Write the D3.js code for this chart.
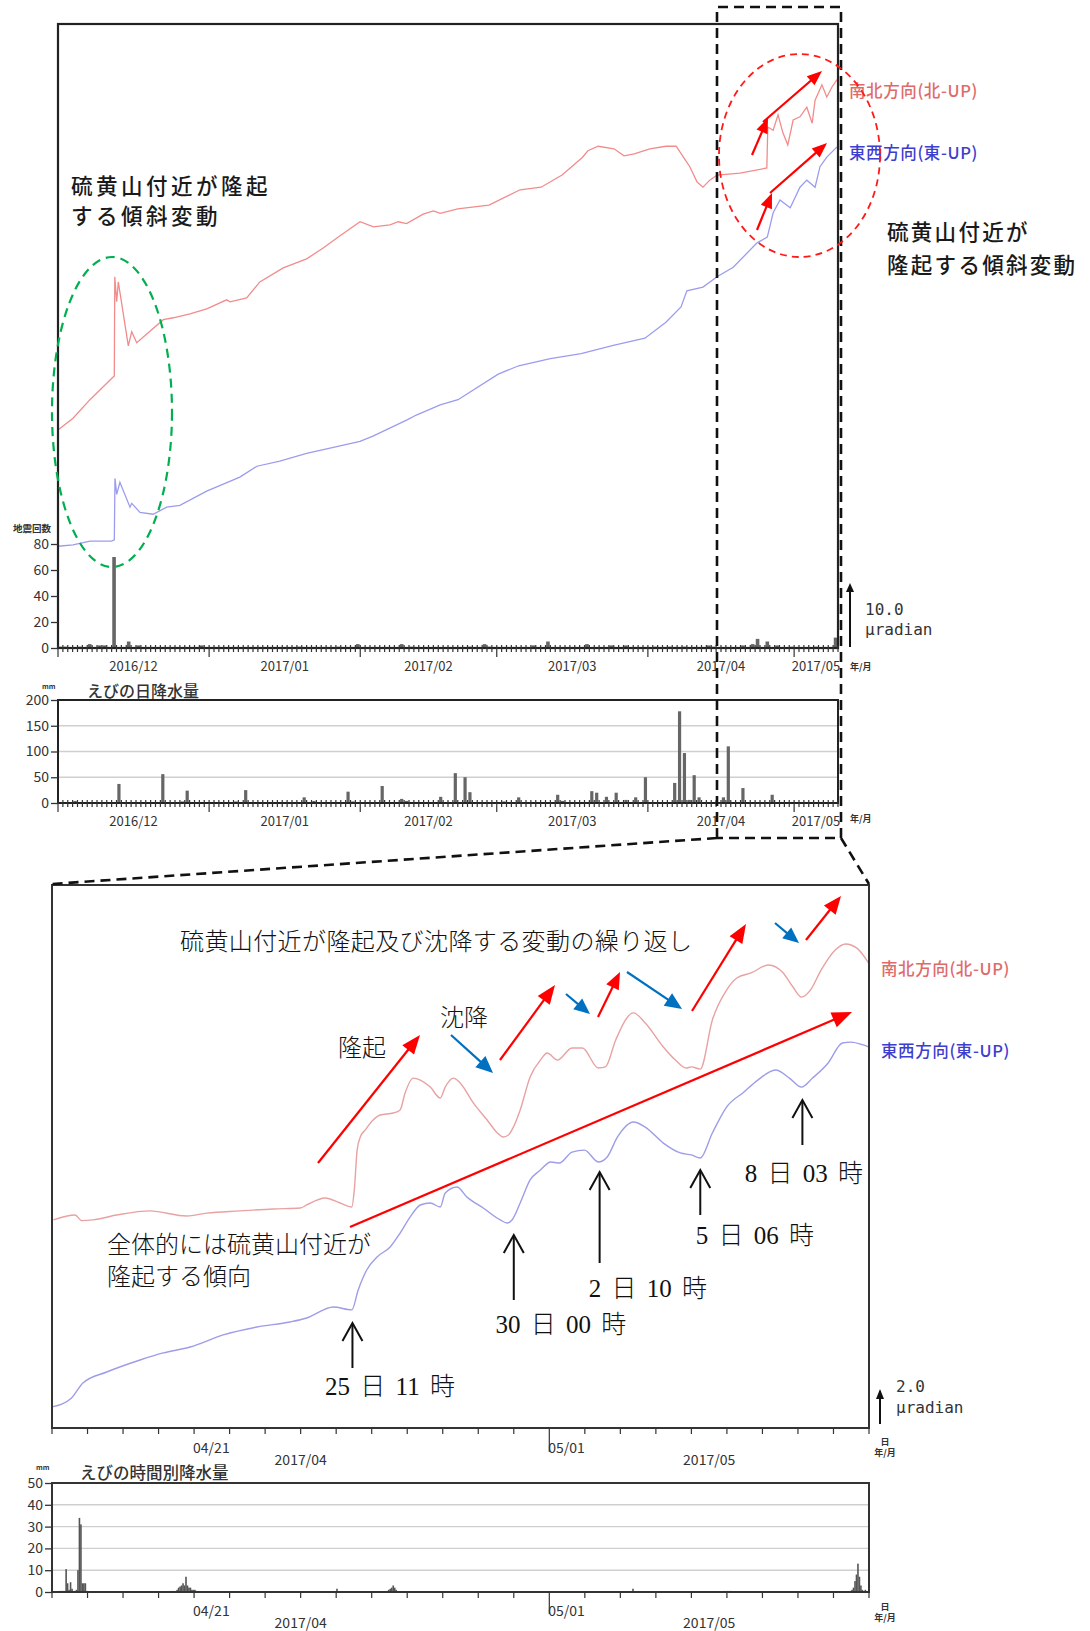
<!DOCTYPE html>
<html><head><meta charset="utf-8">
<script src="https://cdn.jsdelivr.net/npm/d3@7"></script>
<style>
html,body{margin:0;padding:0;background:#fff;}
svg{display:block;}
</style></head><body>
<svg id="chart" width="1090" height="1631"></svg>
<script>
// ---------- data ----------
// Long-period panel: 2016-12-01 .. 2017-05-10 ; zoom panel: 2017-04-17 .. 2017-05-10
const longStart = Date.UTC(2016, 11, 1);
const longEnd   = Date.UTC(2017, 4, 10);
const zoomStart = Date.UTC(2017, 3, 17);
const zoomEnd   = Date.UTC(2017, 4, 10);

const longMonthLabels = ["2016/12", "2017/01", "2017/02", "2017/03", "2017/04", "2017/05"];
const zoomMonthLabels = ["2017/04", "2017/05"];
const zoomDayLabels   = [["04/21", Date.UTC(2017, 3, 21)], ["05/01", Date.UTC(2017, 4, 1)]];
const quakeTicks      = [0, 20, 40, 60, 80];
const dailyRainTicks  = [0, 50, 100, 150, 200];
const hourlyRainTicks = [0, 10, 20, 30, 40, 50];

// tilt, long period: [days since 2016-12-01, μrad]
const tiltNS = [[0.06,34.1],[3.08,35.9],[6.56,38.8],[11.0,42.1],[11.55,42.5],[11.65,58.0],[12.04,54.1],[12.37,57.2],[14.42,47.2],[15.12,49.4],[16.14,47.7],[21.6,51.3],[23.65,51.6],[27.08,52.2],[30.5,53.0],[34.6,54.4],[35.28,54.1],[38.7,54.7],[41.4,57.2],[46.2,59.4],[51.0,60.8],[54.4,62.5],[57.85,64.4],[61.95,66.6],[64.7,65.8],[68.1,66.1],[69.8,66.6],[71.5,66.3],[74.9,67.8],[77.0,68.3],[78.4,67.9],[82.0,68.6],[88.4,69.2],[94.8,71.6],[99.1,72.0],[103.4,73.9],[107.5,76.6],[108.7,77.7],[110.8,78.4],[114.05,78.0],[116.1,76.9],[118.2,77.2],[121.4,78.0],[124.7,78.4],[126.8,78.4],[128.8,76.1],[129.6,75.2],[131.1,72.8],[132.3,72.0],[133.7,73.1],[135.2,73.9],[139.9,74.2],[145.4,75.0],[145.6,81.4],[146.7,80.9],[147.7,83.3],[148.7,80.5],[149.7,78.6],[150.8,82.5],[152.2,83.0],[153.6,84.5],[154.7,82.0],[155.3,85.6],[156.7,88.0],[157.7,86.1],[158.8,87.7],[159.8,88.8]];
const tiltEW = [[0,15.9],[3.08,16.1],[6.56,16.7],[11.0,16.7],[11.55,16.9],[11.69,26.5],[12.04,24.0],[12.7,25.9],[14.77,22.0],[15.12,22.6],[16.82,21.2],[19.5,20.9],[22.3,22.0],[25.0,22.3],[30.5,24.5],[37.3,26.7],[40.8,28.4],[45.5,29.2],[51.0,30.4],[57.85,31.6],[61.95,32.3],[64.6,33.1],[71.5,35.6],[73.5,36.4],[78.4,38.0],[82.05,38.8],[90.3,42.8],[94.5,44.1],[101.0,45.2],[107.3,46.0],[113.9,47.3],[120.4,48.4],[124.7,50.9],[127.8,53.3],[129.0,55.8],[132.3,56.4],[135.2,58.0],[138.5,59.5],[143.4,63.3],[145.5,64.2],[146.7,68.0],[148.1,70.0],[150.2,68.8],[152.2,72.0],[153.6,73.1],[155.3,72.0],[156.3,75.2],[157.7,76.7],[159.8,78.3]];

// tilt, zoom period: [days since 2017-04-17, μrad]
const zoomNS = [[0.04,11.56],[0.65,11.83],[0.84,11.52],[1.15,11.56],[1.82,11.83],[2.76,12.06],[3.79,11.78],[4.36,11.94],[5.30,12.06],[6.23,12.17],[6.99,12.22],[7.17,12.39],[7.69,12.78],[8.11,12.5],[8.44,12.28],[8.51,13.22],[8.59,15.44],[8.68,16.17],[8.82,16.56],[9.04,17.11],[9.24,17.39],[9.61,17.5],[9.80,17.67],[9.94,18.61],[10.17,19.44],[10.37,19.33],[10.65,18.94],[10.93,18.33],[11.07,18.94],[11.30,19.44],[11.49,19.17],[11.86,18.06],[12.25,17.11],[12.54,16.39],[12.70,16.17],[12.85,16.28],[12.99,16.72],[13.18,17.67],[13.46,19.5],[13.75,20.44],[13.94,20.83],[14.23,20.44],[14.64,21.11],[14.93,21.11],[15.38,20.0],[15.58,20.06],[15.87,21.56],[16.37,23.06],[16.70,22.5],[17.21,21.17],[17.55,20.44],[17.85,20.0],[18.0,20.06],[18.25,19.94],[18.59,22.67],[18.99,24.33],[19.28,25.0],[19.68,25.28],[20.17,25.72],[20.56,25.33],[20.86,24.5],[21.10,23.94],[21.35,24.33],[21.65,25.44],[22.05,26.56],[22.34,26.89],[22.65,26.67],[22.99,25.83]];
const zoomEW = [[0,1.17],[0.55,1.67],[0.87,2.5],[1.54,3.11],[2.48,3.78],[3.13,4.17],[3.89,4.5],[4.82,5.17],[5.77,5.61],[6.70,5.89],[7.17,6.11],[7.92,6.72],[8.44,6.56],[8.62,7.67],[8.86,8.78],[9.15,9.5],[9.52,10.06],[9.80,10.83],[10.08,11.72],[10.37,12.39],[10.65,12.5],[10.93,12.28],[11.07,13.06],[11.40,13.39],[11.68,12.83],[12.14,12.22],[12.62,11.56],[12.81,11.39],[12.95,11.56],[13.18,12.5],[13.46,13.78],[13.75,14.33],[14.04,14.78],[14.28,14.72],[14.64,15.33],[14.99,15.44],[15.38,14.78],[15.63,15.06],[15.92,16.17],[16.37,17.0],[16.70,16.72],[17.21,15.83],[17.69,15.28],[18.0,15.17],[18.25,15.0],[18.59,16.39],[18.99,17.83],[19.48,18.67],[19.87,19.33],[20.37,19.89],[20.76,19.44],[21.10,18.94],[21.41,19.44],[21.85,20.28],[22.25,21.39],[22.49,21.44],[22.84,21.28],[22.99,21.17]];

// daily earthquake counts: [days since 2016-12-01, count]
const quakeCounts = [[0,1],[1,1],[4,1],[6,3],[8,2],[9,2],[11,70],[14,5],[16,2],[29,2],[49,1],[57,1],[61,3],[70,3],[72,1],[84,1],[87,3],[88,1],[97,2],[100,5],[108,3],[113,2],[116,2],[122,1],[125,1],[128,1],[133,2],[134,1],[140,2],[142,3],[143,7],[145,5],[147,2],[150,1],[155,1],[159,8]];

// daily rainfall at Ebino (mm): [days since 2016-12-01, mm]
const dailyRain = [[3,4],[12,37],[21,56],[25,3],[26,24],[36,3],[38,25],[48,2],[50,11],[52,4],[59,22],[60,3],[66,33],[70,8],[71,4],[78,12],[81,58],[83,50],[84,21],[91,3],[94,11],[102,16],[103,4],[109,23],[110,20],[112,12],[114,20],[116,6],[118,11],[120,50],[126,39],[127,178],[128,97],[129,6],[130,54],[131,11],[136,11],[137,110],[140,29],[146,16],[153,2],[156,2]];

// hourly rainfall at Ebino (mm): [hours since 2017-04-17 00:00, mm]
const hourlyRain = [[5,0.5],[6,0.5],[7,0.5],[8,0.5],[9,10.5],[10,4],[11,1],[12,4.5],[13,1.5],[14,0.5],[15,0.5],[16,1],[17,10],[18,34],[19,31],[20,4],[21,4],[22,4],[23,0.5],[80,0.5],[82,0.5],[84,1],[85,2],[86,2.5],[87,3],[88,4],[89,3],[90,7],[91,3],[92,2],[93,2],[94,1],[95,1],[96,1],[97,0.5],[192,1.5],[226,0.5],[227,1],[228,1.5],[229,2],[230,3],[231,2],[232,1],[392,1.5],[454,0.5],[456,0.5],[458,0.5],[539,0.5],[540,1],[541,2],[542,5],[543,8],[544,13],[545,7],[546,3],[547,1],[549,1]];

// events marked on the zoom panel
const events = [
  {t: Date.UTC(2017, 3, 25, 11), label: "25 日 11 時", tip: 1323, tail: 1368, lx: 390, ly: 1386},
  {t: Date.UTC(2017, 3, 30, 0),  label: "30 日 00 時", tip: 1235, tail: 1300, lx: 561, ly: 1324},
  {t: Date.UTC(2017, 4, 2, 10),  label: "2 日 10 時",  tip: 1172, tail: 1263, lx: 648, ly: 1288},
  {t: Date.UTC(2017, 4, 5, 6),   label: "5 日 06 時",  tip: 1170, tail: 1215, lx: 755, ly: 1235},
  {t: Date.UTC(2017, 4, 8, 3),   label: "8 日 03 時",  tip: 1100, tail: 1145, lx: 804, ly: 1173}
];

// ---------- setup ----------
const DAY = 864e5;
const SANS = "'Noto Sans CJK JP','Noto Sans',sans-serif";
const MINCHO = "'Liberation Serif','Noto Sans CJK JP',serif";
const svg = d3.select("#chart");

const P1 = {l: 58, r: 838, t: 24, b: 648};     // tilt + earthquakes
const P2 = {l: 58, r: 838, t: 700, b: 803};    // daily rain
const P3 = {l: 52, r: 869, t: 885, b: 1428};   // zoomed tilt
const P4 = {l: 52, r: 869, t: 1483, b: 1592};  // hourly rain

const xLong = d3.scaleUtc().domain([new Date(longStart), new Date(longEnd)]).range([P1.l, P1.r]);
const xZoom = d3.scaleUtc().domain([new Date(zoomStart), new Date(zoomEnd)]).range([P3.l, P3.r]);
const yTilt = d3.scaleLinear().domain([0, 97.5]).range([P1.b, P1.t]);
const yQuake = d3.scaleLinear().domain([0, 80]).range([P1.b, P1.b - 104]);
const yDaily = d3.scaleLinear().domain([0, 200]).range([P2.b, P2.t]);
const yZoom = d3.scaleLinear().domain([0, (P3.b - P3.t) / 18]).range([P3.b, P3.t]);
const yHourly = d3.scaleLinear().domain([0, 50]).range([P4.b, P4.t]);

const longDate = d => new Date(longStart + d * DAY);
const zoomDate = d => new Date(zoomStart + d * DAY);

function styleAxis(g, size) {
  g.select(".domain").remove();
  g.selectAll("line").attr("stroke", "#333").attr("stroke-width", 1.3);
  g.selectAll("text").attr("font-family", SANS).attr("font-size", size).attr("fill", "#333");
}

function txt(x, y, s, opt = {}) {
  return svg.append("text").attr("x", x).attr("y", y).text(s)
    .attr("font-family", opt.family || SANS)
    .attr("font-size", opt.size || 13)
    .attr("font-weight", opt.weight || 400)
    .attr("fill", opt.fill || "#333")
    .attr("text-anchor", opt.anchor || "start")
    .attr("dominant-baseline", "central")
    .attr("letter-spacing", opt.ls || 0)
    .style("white-space", "pre");
}

// day ticks + month ticks under a panel
function dayTicks(x, P, t0, t1, up, down, monthDown) {
  const days = d3.utcDay.range(new Date(t0), new Date(t1 + 1));
  svg.append("g").selectAll("line").data(days).join("line")
    .attr("x1", d => x(d)).attr("x2", d => x(d))
    .attr("y1", P.b - up)
    .attr("y2", d => d.getUTCDate() === 1 ? P.b + monthDown : P.b + down)
    .attr("stroke", "#333").attr("stroke-width", 1.2);
}

function monthCentres(x, t0, t1) {
  const out = [];
  let m = d3.utcMonth.floor(new Date(t0));
  while (m < t1) {
    const n = d3.utcMonth.offset(m, 1);
    const a = Math.max(+m, t0), b = Math.min(+n, t1);
    out.push((x(new Date(a)) + x(new Date(b))) / 2);
    m = n;
  }
  return out;
}

// ---------- panel 1: tilt (long) + earthquake counts ----------
svg.append("g").selectAll("rect").data(quakeCounts).join("rect")
  .attr("x", d => xLong(longDate(d[0] + 0.5)) - 1.8)
  .attr("width", 3.6)
  .attr("y", d => yQuake(d[1]))
  .attr("height", d => P1.b - yQuake(d[1]))
  .attr("fill", "#666");

const lineLong = d3.line().x(d => xLong(longDate(d[0]))).y(d => yTilt(d[1]));
svg.append("path").datum(tiltNS).attr("d", lineLong)
  .attr("fill", "none").attr("stroke", "#f28c8c").attr("stroke-width", 1.3);
svg.append("path").datum(tiltEW).attr("d", lineLong)
  .attr("fill", "none").attr("stroke", "#9c9cef").attr("stroke-width", 1.3);

svg.append("rect").attr("x", P1.l).attr("y", P1.t).attr("width", P1.r - P1.l).attr("height", P1.b - P1.t)
  .attr("fill", "none").attr("stroke", "#222").attr("stroke-width", 2.2);

svg.append("g").attr("transform", `translate(${P1.l},0)`)
  .call(d3.axisLeft(yQuake).tickValues(quakeTicks).tickSize(7).tickPadding(2))
  .call(g => styleAxis(g, 14));
txt(32, 528, "地震回数", {size: 9.5, anchor: "middle", weight: 700});

dayTicks(xLong, P1, longStart, longEnd, 3, 4, 9);
monthCentres(xLong, longStart, longEnd).forEach((cx, i) =>
  txt(cx, 665, longMonthLabels[i], {size: 13, anchor: "middle"}));
txt(850, 666, "年/月", {size: 9, weight: 700});

// scale bar 10 μrad
svg.append("line").attr("x1", 850).attr("x2", 850)
  .attr("y1", yTilt(0) - 1).attr("y2", yTilt(10) + 4)
  .attr("stroke", "#111").attr("stroke-width", 2);
svg.append("path").attr("d", `M${850 - 4},${yTilt(10) + 8} L850,${yTilt(10) - 1} L${850 + 4},${yTilt(10) + 8} Z`).attr("fill", "#111");
txt(865, 609, "10.0", {family: "'DejaVu Sans Mono',monospace", size: 16});
txt(865, 629, "μradian", {family: "'DejaVu Sans Mono',monospace", size: 16});

// series labels
txt(849, 90, "南北方向(北-UP)", {size: 16.5, fill: "#e06a6a", weight: 500, ls: 0.6});
txt(849, 152, "東西方向(東-UP)", {size: 16.5, fill: "#3d3dd0", weight: 500, ls: 0.6});

// ---------- panel 2: daily rainfall ----------
svg.append("g").selectAll("line").data([50, 100, 150]).join("line")
  .attr("x1", P2.l).attr("x2", P2.r).attr("y1", d => yDaily(d)).attr("y2", d => yDaily(d))
  .attr("stroke", "#cfcfcf").attr("stroke-width", 1.4);
svg.append("g").selectAll("rect").data(dailyRain).join("rect")
  .attr("x", d => xLong(longDate(d[0] + 0.5)) - 1.6)
  .attr("width", 3.2)
  .attr("y", d => yDaily(d[1]))
  .attr("height", d => P2.b - yDaily(d[1]))
  .attr("fill", "#666");
svg.append("rect").attr("x", P2.l).attr("y", P2.t).attr("width", P2.r - P2.l).attr("height", P2.b - P2.t)
  .attr("fill", "none").attr("stroke", "#222").attr("stroke-width", 2);
svg.append("g").attr("transform", `translate(${P2.l},0)`)
  .call(d3.axisLeft(yDaily).tickValues(dailyRainTicks).tickSize(7).tickPadding(2))
  .call(g => styleAxis(g, 14));
dayTicks(xLong, P2, longStart, longEnd, 3, 4, 9);
monthCentres(xLong, longStart, longEnd).forEach((cx, i) =>
  txt(cx, 820, longMonthLabels[i], {size: 13, anchor: "middle"}));
txt(850, 818, "年/月", {size: 9, weight: 700});
txt(42, 686, "mm", {size: 7, weight: 700});
txt(87, 690, "えびの日降水量", {size: 16, weight: 500});

// ---------- panel 3: zoomed tilt ----------
const lineZoom = d3.line().curve(d3.curveMonotoneX).x(d => xZoom(zoomDate(d[0]))).y(d => yZoom(d[1]));
svg.append("path").datum(zoomNS).attr("d", lineZoom)
  .attr("fill", "none").attr("stroke", "#e8a2a2").attr("stroke-width", 1.4);
svg.append("path").datum(zoomEW).attr("d", lineZoom)
  .attr("fill", "none").attr("stroke", "#9d9de8").attr("stroke-width", 1.4);
svg.append("rect").attr("x", P3.l).attr("y", P3.t).attr("width", P3.r - P3.l).attr("height", P3.b - P3.t)
  .attr("fill", "none").attr("stroke", "#333").attr("stroke-width", 2);
dayTicks(xZoom, P3, zoomStart, zoomEnd, 0, 6, 24);
zoomDayLabels.forEach(([s, t]) => txt(xZoom(new Date(t)) - 1, 1447, s, {size: 14}));
monthCentres(xZoom, zoomStart, zoomEnd).forEach((cx, i) =>
  txt(cx, 1459, zoomMonthLabels[i], {size: 14, anchor: "middle"}));
txt(885, 1441, "日", {size: 9, anchor: "middle", weight: 700});
txt(885, 1452, "年/月", {size: 9, anchor: "middle", weight: 700});

svg.append("line").attr("x1", 880).attr("x2", 880)
  .attr("y1", yZoom(0) - 4).attr("y2", yZoom(2) - 1)
  .attr("stroke", "#111").attr("stroke-width", 2);
svg.append("path").attr("d", `M876,${yZoom(2) + 7} L880,${yZoom(2) - 3} L884,${yZoom(2) + 7} Z`).attr("fill", "#111");
txt(896, 1386, "2.0", {family: "'DejaVu Sans Mono',monospace", size: 16});
txt(896, 1407, "μradian", {family: "'DejaVu Sans Mono',monospace", size: 16});

txt(881, 968, "南北方向(北-UP)", {size: 16.5, fill: "#e06a6a", weight: 500, ls: 0.6});
txt(881, 1050, "東西方向(東-UP)", {size: 16.5, fill: "#3d3dd0", weight: 500, ls: 0.6});

// ---------- panel 4: hourly rainfall ----------
svg.append("g").selectAll("line").data([10, 20, 30, 40]).join("line")
  .attr("x1", P4.l).attr("x2", P4.r).attr("y1", d => yHourly(d)).attr("y2", d => yHourly(d))
  .attr("stroke", "#cfcfcf").attr("stroke-width", 1.4);
svg.append("g").selectAll("rect").data(hourlyRain).join("rect")
  .attr("x", d => xZoom(new Date(zoomStart + d[0] * 36e5)))
  .attr("width", 1.6)
  .attr("y", d => yHourly(d[1]))
  .attr("height", d => P4.b - yHourly(d[1]))
  .attr("fill", "#555");
svg.append("rect").attr("x", P4.l).attr("y", P4.t).attr("width", P4.r - P4.l).attr("height", P4.b - P4.t)
  .attr("fill", "none").attr("stroke", "#333").attr("stroke-width", 2);
svg.append("g").attr("transform", `translate(${P4.l},0)`)
  .call(d3.axisLeft(yHourly).tickValues(hourlyRainTicks).tickSize(7).tickPadding(2))
  .call(g => styleAxis(g, 14));
dayTicks(xZoom, P4, zoomStart, zoomEnd, 0, 6, 22);
zoomDayLabels.forEach(([s, t]) => txt(xZoom(new Date(t)) - 1, 1610, s, {size: 14}));
monthCentres(xZoom, zoomStart, zoomEnd).forEach((cx, i) =>
  txt(cx, 1622, zoomMonthLabels[i], {size: 14, anchor: "middle"}));
txt(885, 1606, "日", {size: 9, anchor: "middle", weight: 700});
txt(885, 1617, "年/月", {size: 9, anchor: "middle", weight: 700});
txt(36, 1467, "mm", {size: 7, weight: 700});
txt(80, 1472, "えびの時間別降水量", {size: 16.5, weight: 500});

// ---------- annotations ----------
const ann = svg.append("g");
function arrow(x1, y1, x2, y2, color, L, W, sw) {
  const a = Math.atan2(y2 - y1, x2 - x1);
  const bx = x2 - L * Math.cos(a), by = y2 - L * Math.sin(a);
  ann.append("line").attr("x1", x1).attr("y1", y1).attr("x2", bx + 2 * Math.cos(a)).attr("y2", by + 2 * Math.sin(a))
    .attr("stroke", color).attr("stroke-width", sw);
  ann.append("path").attr("d",
    `M${x2},${y2} L${bx + W * Math.sin(a)},${by - W * Math.cos(a)} L${bx - W * Math.sin(a)},${by + W * Math.cos(a)} Z`)
    .attr("fill", color);
}

// zoom-box outline and connectors
ann.append("path")
  .attr("d", "M717,838 V7 H841 V838 Z M717,838 L52,884 M841,838 L869,884")
  .attr("fill", "none").attr("stroke", "#111").attr("stroke-width", 2.6).attr("stroke-dasharray", "10,6");

// long panel: ellipses, arrows, notes
ann.append("ellipse").attr("cx", 112).attr("cy", 412).attr("rx", 60).attr("ry", 155)
  .attr("fill", "none").attr("stroke", "#00b050").attr("stroke-width", 2.2).attr("stroke-dasharray", "9,6");
ann.append("ellipse").attr("cx", 799.5).attr("cy", 155.5).attr("rx", 80.5).attr("ry", 101.5)
  .attr("fill", "none").attr("stroke", "#ff1a1a").attr("stroke-width", 1.8).attr("stroke-dasharray", "7,5");
arrow(752, 155, 768, 118, "#ff0000", 15, 6, 2.2);
arrow(763, 122, 822, 71, "#ff0000", 15, 6, 2.2);
arrow(757, 230, 772, 193, "#ff0000", 15, 6, 2.2);
arrow(770, 193, 827, 143, "#ff0000", 15, 6, 2.2);

txt(71, 184, "硫黄山付近が隆起", {size: 21.5, fill: "#1a1a1a", ls: 3.5, weight: 500});
txt(71, 214, "する傾斜変動", {size: 21.5, fill: "#1a1a1a", ls: 3.5, weight: 500});
txt(887, 230, "硫黄山付近が", {size: 21.5, fill: "#1a1a1a", ls: 2.3, weight: 500});
txt(887, 263, "隆起する傾斜変動", {size: 21.5, fill: "#1a1a1a", ls: 2.3, weight: 500});

// zoom panel: uplift / subsidence arrows
const RED = "#ff0000", BLUE = "#0070c0";
arrow(318, 1163, 420, 1035, RED, 19, 7.5, 2.2);
arrow(451, 1035, 493, 1073, BLUE, 17, 7.5, 2.2);
arrow(500, 1060, 555, 985, RED, 19, 7.5, 2.2);
arrow(566, 994, 590, 1014, BLUE, 16, 7, 2.2);
arrow(598, 1017, 620, 972, RED, 17, 7, 2.2);
arrow(627, 972, 682, 1009, BLUE, 17, 7.5, 2.2);
arrow(692, 1011, 746, 924, RED, 19, 7.5, 2.2);
arrow(775, 923, 799, 943, BLUE, 16, 7, 2.2);
arrow(806, 940, 841, 896, RED, 18, 7.5, 2.2);
arrow(350, 1227, 852, 1012, RED, 20, 8, 2.2);

const noteOpt = {family: MINCHO, size: 24, fill: "#111", weight: 300};
txt(180, 942, "硫黄山付近が隆起及び沈降する変動の繰り返し", Object.assign({}, noteOpt, {ls: 0.4}));
txt(338, 1048, "隆起", noteOpt);
txt(440, 1018, "沈降", noteOpt);
txt(107, 1245, "全体的には硫黄山付近が", noteOpt);
txt(107, 1277, "隆起する傾向", noteOpt);

// event arrows
events.forEach(e => {
  const x = xZoom(new Date(e.t));
  ann.append("line").attr("x1", x).attr("x2", x).attr("y1", e.tail).attr("y2", e.tip + 1)
    .attr("stroke", "#111").attr("stroke-width", 2);
  ann.append("path").attr("d", `M${x - 10},${e.tip + 18} L${x},${e.tip} L${x + 10},${e.tip + 18}`)
    .attr("fill", "none").attr("stroke", "#111").attr("stroke-width", 2);
  txt(e.lx, e.ly, e.label, Object.assign({}, noteOpt, {size: 25, anchor: "middle"}))
    .attr("word-spacing", 4);
});
</script>
</body></html>
